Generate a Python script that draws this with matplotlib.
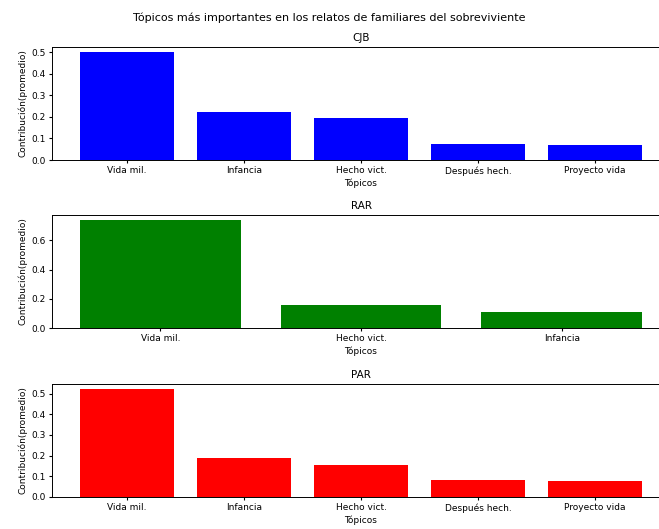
import matplotlib.pyplot as plt
from matplotlib.ticker import MultipleLocator

# datos de contribucion promedio por topico
cjb_topicos = ['Vida mil.', 'Infancia', 'Hecho vict.', 'Después hech.', 'Proyecto vida']
cjb_valores = [0.50, 0.222, 0.194, 0.074, 0.069]

rar_topicos = ['Vida mil.', 'Hecho vict.', 'Infancia']
rar_valores = [0.736, 0.157, 0.109]

par_topicos = ['Vida mil.', 'Infancia', 'Hecho vict.', 'Después hech.', 'Proyecto vida']
par_valores = [0.52, 0.19, 0.155, 0.08, 0.075]

fig = plt.figure(figsize=(6.59, 5.29), dpi=100)
fig.suptitle('Tópicos más importantes en los relatos de familiares del sobreviviente',
             fontsize=8, y=0.977)

left = 52 / 659
width = 618 / 659
paneles = [
    ('CJB', cjb_topicos, cjb_valores, 'blue', 369 / 529, 0.1),
    ('RAR', rar_topicos, rar_valores, 'green', 201 / 529, 0.2),
    ('PAR', par_topicos, par_valores, 'red', 32 / 529, 0.1),
]

for titulo, topicos, valores, color, bottom, paso in paneles:
    ax = fig.add_axes([left, bottom, width, 113 / 529])
    ax.bar(topicos, valores, color=color)
    ax.yaxis.set_major_locator(MultipleLocator(paso))
    ax.set_title(titulo, fontsize=7.5, pad=4)
    ax.set_xlabel('Tópicos', fontsize=6.5, labelpad=2)
    ax.set_ylabel('Contribución(promedio)', fontsize=6.5, labelpad=3)
    ax.tick_params(labelsize=6.5, length=2.5, pad=2)
    for s in ax.spines.values():
        s.set_linewidth(0.7)

fig.savefig('out.png', dpi=100)
